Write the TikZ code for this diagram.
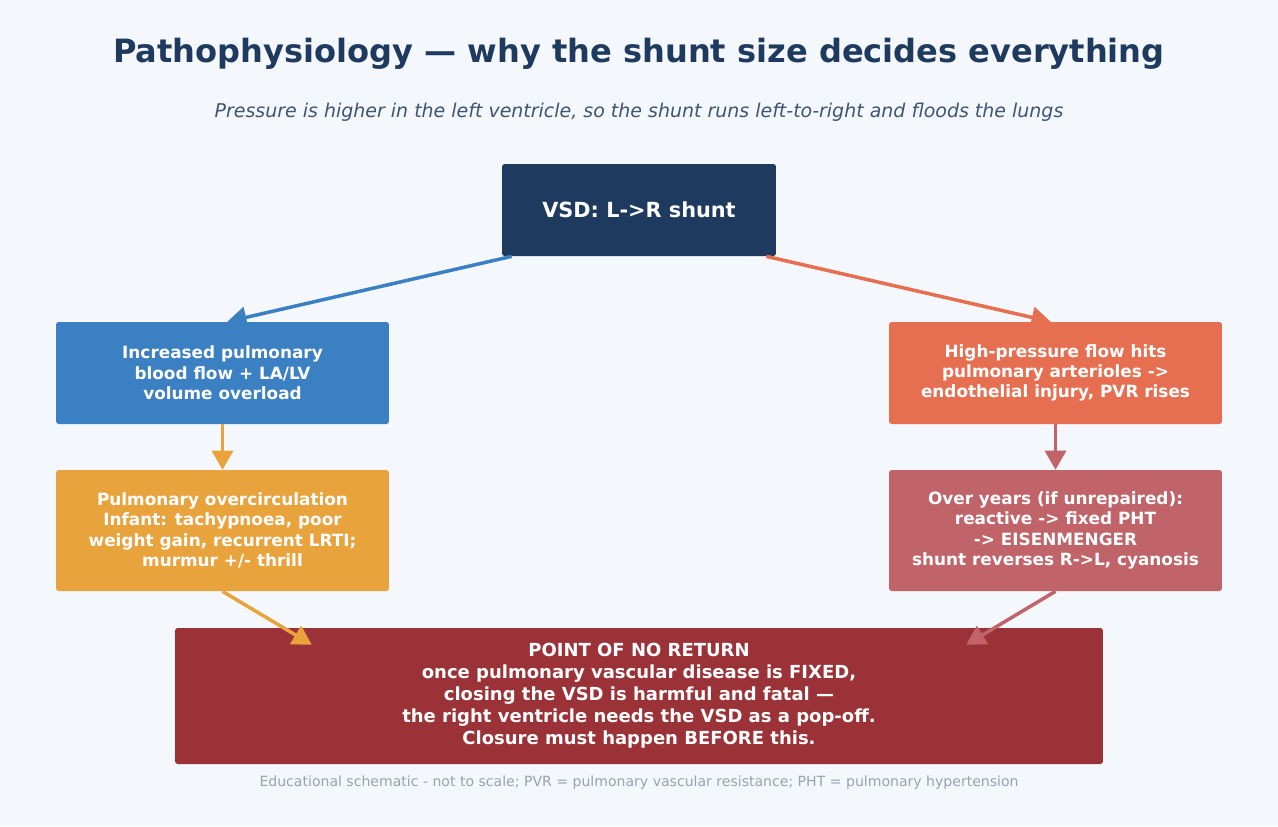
\documentclass[tikz,border=0pt]{standalone}
\usepackage{fontspec}
\setmainfont{DejaVu Sans}
\usetikzlibrary{arrows,calc}

\definecolor{bgcol}{HTML}{F4F7FB}
\definecolor{navy}{HTML}{1F3A5F}
\definecolor{subcol}{HTML}{3D5575}
\definecolor{bluecol}{HTML}{3A80C3}
\definecolor{coralcol}{HTML}{E76F51}
\definecolor{ambercol}{HTML}{E8A33D}
\definecolor{rosecol}{HTML}{C0646A}
\definecolor{redcol}{HTML}{9B3237}
\definecolor{footcol}{HTML}{9AA3AE}

\tikzset{
  box/.style={rounded corners=1.5pt, text=white, align=center,
    font=\bfseries\fontsize{9.6}{11.6}\selectfont,
    minimum width=6.66cm, inner sep=0pt},
  link/.style={->, >=triangle 60, line width=2pt},
}

\begin{document}
\begin{tikzpicture}[x=0.02cm,y=-0.02cm]
\fill[bgcol] (0,0) rectangle (1278,826);
\useasboundingbox (0,0) rectangle (1278,826);

\node (title) at (639,54) [text=navy, font=\bfseries\fontsize{18.25}{22}\selectfont]
    {Pathophysiology --- why the shunt size decides everything};
\node (sub) at (639,112) [text=subcol, font=\itshape\fontsize{10.8}{13}\selectfont]
    {Pressure is higher in the left ventricle, so the shunt runs left-to-right and floods the lungs};

\node (vsd) at (639,210) [box, fill=navy, minimum width=5.48cm, minimum height=1.84cm,
    font=\bfseries\fontsize{11.85}{14}\selectfont]
    {VSD: L->R shunt};
\node (flow) at (222.5,373) [box, fill=bluecol, minimum height=2.04cm]
    {Increased pulmonary\\blood flow + LA/LV\\volume overload};
\node (press) at (1055.5,373) [box, fill=coralcol, minimum height=2.04cm]
    {High-pressure flow hits\\pulmonary arterioles ->\\endothelial injury, PVR rises};
\node (overc) at (222.5,530.5) [box, fill=ambercol, minimum height=2.42cm]
    {Pulmonary overcirculation\\Infant: tachypnoea, poor\\weight gain, recurrent LRTI;\\murmur +/- thrill};
\node (eisen) at (1055.5,530.5) [box, fill=rosecol, minimum height=2.42cm]
    {Over years (if unrepaired):\\reactive -> fixed PHT\\-> EISENMENGER\\shunt reverses R->L, cyanosis};
\node (pnr) at (639,696) [box, fill=redcol, minimum width=18.56cm, minimum height=2.72cm,
    font=\bfseries\fontsize{10.25}{12.5}\selectfont]
    {POINT OF NO RETURN\\once pulmonary vascular disease is FIXED,\\closing the VSD is harmful and fatal ---\\the right ventricle needs the VSD as a pop-off.\\Closure must happen BEFORE this.};

\node (foot) at (639,783) [text=footcol, font=\fontsize{8}{10}\selectfont]
    {Educational schematic - not to scale; PVR = pulmonary vascular resistance; PHT = pulmonary hypertension};

\coordinate (pnrL) at ($(pnr.north west)+(137,17)$);
\coordinate (pnrR) at ($(pnr.north east)+(-137,17)$);

\draw[link, bluecol]  ($(vsd.south west)+(10,0)$)  -- ($(flow.north)+(5,0)$);
\draw[link, coralcol] ($(vsd.south east)+(-10,0)$) -- ($(press.north)+(-5,0)$);
\draw[link, ambercol] (flow)  -- (overc);
\draw[link, rosecol]  (press) -- (eisen);
\draw[link, ambercol] (overc.south) -- (pnrL);
\draw[link, rosecol]  (eisen.south) -- (pnrR);
\end{tikzpicture}
\end{document}
